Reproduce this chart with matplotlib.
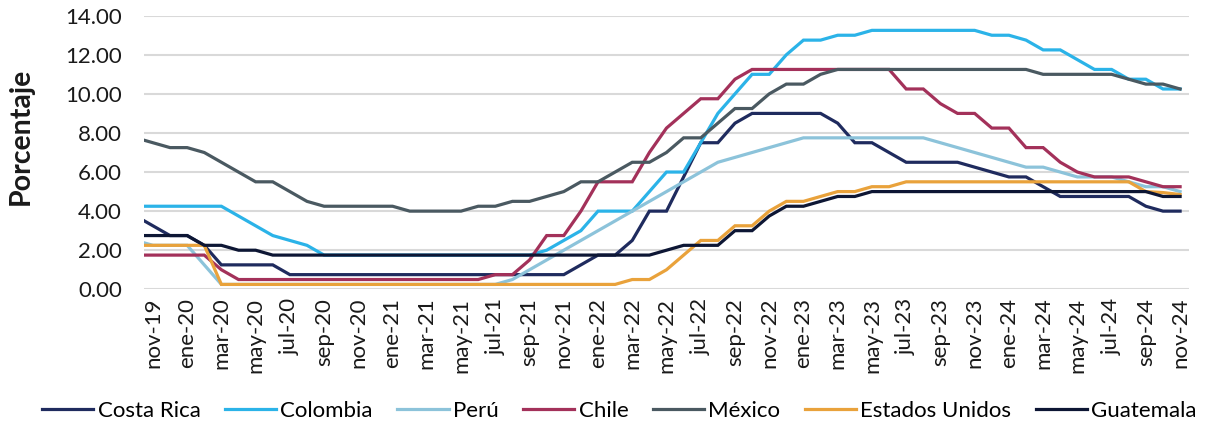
import matplotlib
matplotlib.use("Agg")
import matplotlib.pyplot as plt
import numpy as np

# Months from oct-19 (partly clipped at the left edge) to nov-24
month_names = ["ene", "feb", "mar", "abr", "may", "jun", "jul", "ago", "sep", "oct", "nov", "dic"]
months = []
y, m = 2019, 10
while (y, m) <= (2024, 11):
    months.append(f"{month_names[m-1]}-{str(y)[2:]}")
    m += 1
    if m > 12:
        m, y = 1, y + 1

costa_rica = [3.75, 3.25, 2.75, 2.75, 2.25, 1.25, 1.25, 1.25, 1.25,
              0.75, 0.75, 0.75, 0.75, 0.75, 0.75, 0.75, 0.75, 0.75, 0.75, 0.75, 0.75, 0.75, 0.75, 0.75, 0.75, 0.75,
              1.25, 1.75, 1.75, 2.5, 4.0, 4.0, 5.75, 7.5, 7.5, 8.5,
              9.0, 9.0, 9.0, 9.0, 9.0,
              8.5, 7.5, 7.5, 7.0,
              6.5, 6.5, 6.5, 6.5,
              6.25, 6.0, 5.75, 5.75, 5.25,
              4.75, 4.75, 4.75, 4.75, 4.75,
              4.25, 4.0, 4.0]
colombia = [4.25, 4.25, 4.25, 4.25, 4.25, 4.25,
            3.75, 3.25, 2.75, 2.5, 2.25,
            1.75, 1.75, 1.75, 1.75, 1.75, 1.75, 1.75, 1.75, 1.75, 1.75, 1.75, 1.75, 1.75,
            2.0, 2.5, 3.0, 4.0, 4.0, 4.0, 5.0, 6.0, 6.0, 7.5, 9.0, 10.0, 11.0, 11.0, 12.0, 12.75, 12.75, 13.0, 13.0,
            13.25, 13.25, 13.25, 13.25, 13.25, 13.25, 13.25,
            13.0, 13.0, 12.75, 12.25, 12.25, 11.75, 11.25, 11.25, 10.75, 10.75, 10.25, 10.25]
peru = [2.5, 2.25, 2.25, 2.25, 1.25,
        0.25, 0.25, 0.25, 0.25, 0.25, 0.25, 0.25, 0.25, 0.25, 0.25, 0.25, 0.25, 0.25, 0.25, 0.25, 0.25, 0.25,
        0.5, 1.0, 1.5, 2.0, 2.5, 3.0, 3.5, 4.0, 4.5, 5.0, 5.5, 6.0, 6.5, 6.75, 7.0, 7.25, 7.5,
        7.75, 7.75, 7.75, 7.75, 7.75, 7.75, 7.75, 7.75,
        7.5, 7.25, 7.0, 6.75, 6.5, 6.25, 6.25, 6.0, 5.75, 5.75, 5.75, 5.5, 5.25, 5.25, 5.0]
chile = [1.75, 1.75, 1.75, 1.75, 1.75, 1.0,
         0.5, 0.5, 0.5, 0.5, 0.5, 0.5, 0.5, 0.5, 0.5, 0.5, 0.5, 0.5, 0.5, 0.5, 0.5,
         0.75, 0.75, 1.5, 2.75, 2.75, 4.0, 5.5, 5.5, 5.5, 7.0, 8.25, 9.0, 9.75, 9.75, 10.75,
         11.25, 11.25, 11.25, 11.25, 11.25, 11.25, 11.25, 11.25, 11.25,
         10.25, 10.25, 9.5, 9.0, 9.0, 8.25, 8.25, 7.25, 7.25, 6.5, 6.0, 5.75, 5.75, 5.75, 5.5, 5.25, 5.25]
mexico = [7.75, 7.5, 7.25, 7.25, 7.0, 6.5, 6.0, 5.5, 5.5, 5.0, 4.5,
          4.25, 4.25, 4.25, 4.25, 4.25,
          4.0, 4.0, 4.0, 4.0,
          4.25, 4.25, 4.5, 4.5, 4.75, 5.0, 5.5, 5.5, 6.0, 6.5, 6.5, 7.0, 7.75, 7.75, 8.5, 9.25, 9.25,
          10.0, 10.5, 10.5, 11.0,
          11.25, 11.25, 11.25, 11.25, 11.25, 11.25, 11.25, 11.25, 11.25, 11.25, 11.25, 11.25,
          11.0, 11.0, 11.0, 11.0, 11.0,
          10.75, 10.5, 10.5, 10.25]
estados_unidos = [2.25, 2.25, 2.25, 2.25, 2.25,
                  0.25, 0.25, 0.25, 0.25, 0.25, 0.25, 0.25, 0.25, 0.25, 0.25, 0.25, 0.25,
                  0.25, 0.25, 0.25, 0.25, 0.25, 0.25, 0.25, 0.25, 0.25, 0.25, 0.25, 0.25,
                  0.5, 0.5, 1.0, 1.75, 2.5, 2.5, 3.25, 3.25, 4.0, 4.5, 4.5, 4.75, 5.0, 5.0, 5.25, 5.25,
                  5.5, 5.5, 5.5, 5.5, 5.5, 5.5, 5.5, 5.5, 5.5, 5.5, 5.5, 5.5, 5.5, 5.5,
                  5.0, 4.95, 4.85]
guatemala = [2.75, 2.75, 2.75, 2.75, 2.25, 2.25, 2.0, 2.0,
             1.75, 1.75, 1.75, 1.75, 1.75, 1.75, 1.75, 1.75, 1.75, 1.75, 1.75, 1.75,
             1.75, 1.75, 1.75, 1.75, 1.75, 1.75, 1.75, 1.75, 1.75, 1.75, 1.75,
             2.0, 2.25, 2.25, 2.25, 3.0, 3.0, 3.75, 4.25, 4.25, 4.5, 4.75, 4.75,
             5.0, 5.0, 5.0, 5.0, 5.0, 5.0, 5.0, 5.0, 5.0, 5.0, 5.0, 5.0, 5.0, 5.0, 5.0, 5.0, 5.0,
             4.75, 4.75]

series = [
    ("Costa Rica", costa_rica, "#1f2b5e"),
    ("Colombia", colombia, "#2bb3e8"),
    ("Perú", peru, "#8cc3da"),
    ("Chile", chile, "#a3315a"),
    ("México", mexico, "#4a5961"),
    ("Estados Unidos", estados_unidos, "#e9a23b"),
    ("Guatemala", guatemala, "#0d1634"),
]

plt.rcParams["font.family"] = ["Lato", "DejaVu Sans"]
plt.rcParams["font.size"] = 16

fig = plt.figure(figsize=(12.1, 4.26), dpi=100)
ax = fig.add_axes([144 / 1210, (426 - 289.3) / 426, (1189 - 144) / 1210, (289.3 - 15.7) / 426])

x = np.arange(len(months)) - 1  # nov-19 at 0
for name, vals, col in series:
    ax.plot(x, vals, color=col, lw=2.3, label=name, solid_joinstyle="miter")

ax.set_xlim(-0.52, 60.52)
ax.set_ylim(0, 14)
ax.set_yticks(np.arange(0, 14.01, 2))
ax.set_yticklabels([f"{v:.2f}" for v in np.arange(0, 14.01, 2)])
ticks = list(range(0, 61, 2))
ax.set_xticks(ticks)
ax.set_xticklabels([months[t + 1] for t in ticks], rotation=90)
ax.tick_params(axis="both", length=0, colors="#1a1a1a", labelsize=16)
ax.tick_params(axis="y", pad=16)
ax.tick_params(axis="x", pad=6)
ax.grid(axis="y", color="#d9d9d9", lw=1.5)
ax.set_axisbelow(True)
for s in ax.spines.values():
    s.set_visible(False)

fig.text(21 / 1210, 1 - 136 / 426, "Porcentaje", rotation=90, va="center", ha="center",
         fontweight="bold", fontsize=20.5, color="#1a1a1a")

fig.legend(loc="center", bbox_to_anchor=(0.512, 0.036), ncol=7, frameon=False,
           handlelength=2.3, handletextpad=0.2, columnspacing=1.1, fontsize=16)

fig.savefig("out.png", dpi=100)
